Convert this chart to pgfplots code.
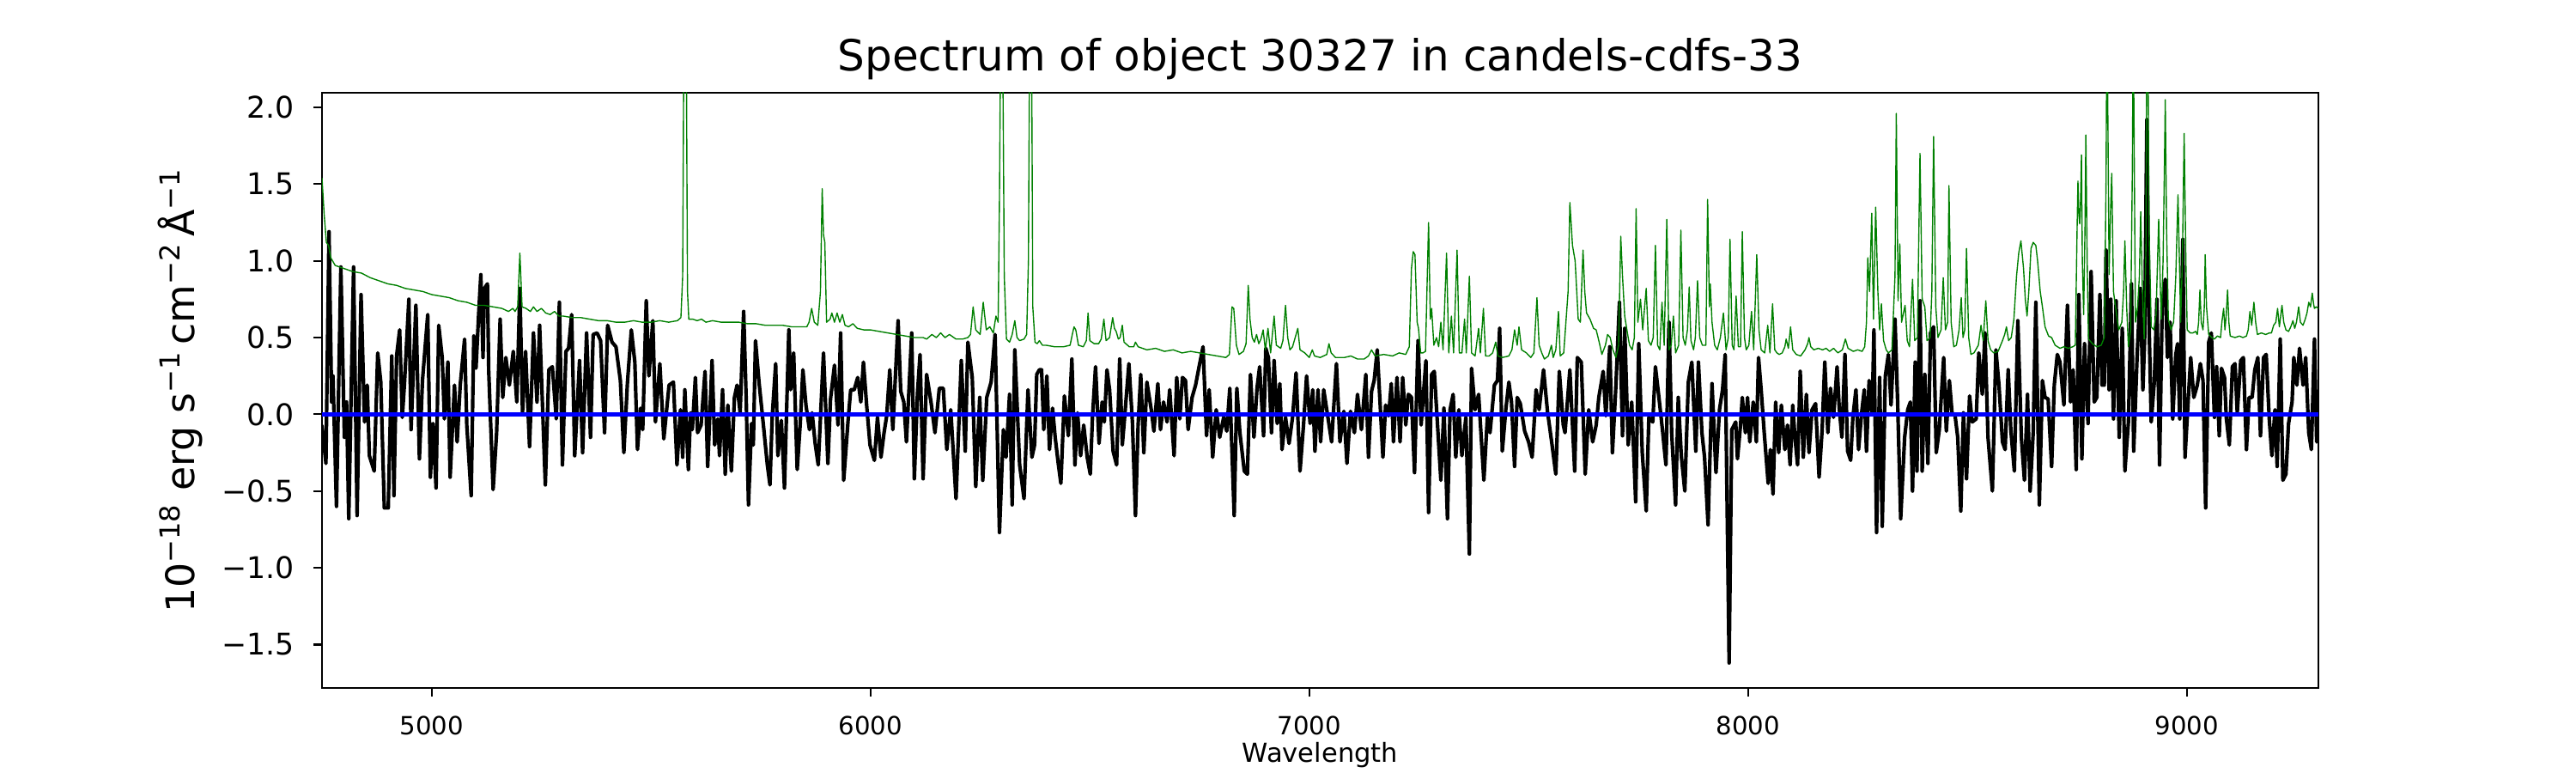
\documentclass[border=0pt]{standalone}
\usepackage{fontspec}
\setmainfont{DejaVu Sans}
\usepackage{pgfplots}
\pgfplotsset{compat=1.18}
\definecolor{mplgreen}{rgb}{0,0.5,0}
\begin{document}
\begin{tikzpicture}
\path[use as bounding box] (-135pt,-35.64pt) rectangle (945pt,288.36pt);
\begin{axis}[
  at={(0,0)}, anchor=south west,
  scale only axis, width=837pt, height=249.48pt,
  xmin=4750, xmax=9300, ymin=-1.783, ymax=2.095,
  axis line style={line width=0.8pt},
  every tick/.style={line width=0.8pt, black},
  major tick length=3.5pt,
  tick align=outside,
  xtick pos=bottom, ytick pos=left,
  xtick={5000,6000,7000,8000,9000},
  xticklabels={5000,6000,7000,8000,9000},
  ytick={-1.5,-1,-0.5,0,0.5,1,1.5,2},
  yticklabels={−1.5,−1.0,−0.5,0.0,0.5,1.0,1.5,2.0},
  yticklabel style={font=\fontsize{12.5}{15}\selectfont, anchor=east, inner sep=0pt, xshift=-7.8pt},
  xticklabel style={font=\fontsize{10.5}{12.6}\selectfont, anchor=north, inner sep=0pt, yshift=-8pt},
  title={Spectrum of object 30327 in candels-cdfs-33},
  title style={font=\fontsize{18}{21}\selectfont, at={(axis description cs:0.5,1)}, anchor=base, yshift=3pt, inner sep=0pt},
  xlabel={Wavelength},
  xlabel style={font=\fontsize{11}{13}\selectfont, at={(axis description cs:0.5,0)}, anchor=base, yshift=-31.3pt, inner sep=0pt},
  ylabel={10\textsuperscript{−18} erg s\textsuperscript{−1}\,cm\textsuperscript{−2}\,Å\textsuperscript{−1}},
  ylabel style={font=\fontsize{16.5}{19}\selectfont, at={(axis description cs:-0.06368,0.5)}, anchor=base, inner sep=0pt},
]
% black flux
\addplot[black, line width=1.5pt, line join=round] table[row sep=\\] {
x y\\
4750 -0.07\\ 4759 -0.32\\ 4766 1.19\\ 4772 0.08\\ 4775 0.25\\ 4783 -0.60\\ 4793 0.96\\ 4801 -0.15\\ 4806 0.08\\ 4811 -0.68\\
4822 0.96\\ 4830 -0.66\\ 4839 0.78\\ 4847 -0.05\\ 4853 0.19\\ 4858 -0.27\\ 4869 -0.37\\ 4877 0.40\\ 4884 0.21\\ 4892 -0.61\\
4901 -0.61\\ 4909 0.38\\ 4914 -0.53\\ 4920 0.38\\ 4927 0.55\\ 4933 -0.02\\ 4938 0.20\\ 4948 0.75\\ 4953 -0.10\\ 4964 0.71\\
4972 -0.29\\ 4979 0.22\\ 4991 0.65\\ 4997 -0.41\\ 5003 -0.06\\ 5010 -0.48\\ 5016 0.58\\ 5024 0.37\\ 5029 -0.03\\ 5037 0.34\\
5042 -0.41\\ 5052 0.19\\ 5058 -0.18\\ 5065 0.19\\ 5075 0.49\\ 5080 -0.07\\ 5090 -0.53\\ 5096 0.51\\ 5101 0.30\\ 5107 0.65\\
5112 0.91\\ 5117 0.37\\ 5120 0.82\\ 5127 0.85\\ 5130 0.28\\ 5140 -0.49\\ 5148 -0.12\\ 5156 0.62\\ 5162 0.11\\ 5169 0.37\\
5177 0.19\\ 5186 0.41\\ 5194 0.08\\ 5201 0.82\\ 5207 0.01\\ 5214 0.41\\ 5223 -0.21\\ 5232 0.53\\ 5240 0.08\\ 5246 0.58\\
5259 -0.46\\ 5267 0.29\\ 5275 0.31\\ 5284 -0.03\\ 5291 0.73\\ 5298 -0.33\\ 5306 0.41\\ 5312 0.43\\ 5319 0.65\\ 5326 -0.27\\
5337 0.35\\ 5344 -0.25\\ 5353 0.53\\ 5362 -0.15\\ 5368 0.52\\ 5377 0.53\\ 5385 0.48\\ 5394 -0.12\\ 5401 0.58\\ 5411 0.47\\
5420 0.44\\ 5430 0.22\\ 5438 -0.25\\ 5446 0.20\\ 5455 0.55\\ 5463 0.34\\ 5469 -0.23\\ 5476 0.04\\ 5481 -0.10\\ 5489 0.74\\
5495 0.25\\ 5504 0.61\\ 5510 -0.05\\ 5520 0.33\\ 5529 -0.16\\ 5541 0.19\\ 5551 0.21\\ 5559 -0.33\\
5567 0.03\\ 5572 -0.28\\ 5577 0.16\\ 5585 -0.36\\ 5590 0.01\\ 5594 -0.10\\ 5601 0.24\\ 5606 -0.12\\ 5614 -0.07\\ 5623 0.28\\
5629 -0.34\\ 5639 0.35\\ 5645 -0.20\\ 5652 -0.03\\ 5656 -0.27\\ 5663 0.16\\ 5669 -0.39\\ 5675 0.06\\ 5683 -0.37\\ 5690 0.11\\
5696 0.19\\ 5703 0.01\\ 5711 0.67\\ 5717 0.08\\ 5722 -0.59\\ 5729 -0.06\\ 5733 -0.20\\ 5738 0.48\\ 5746 0.21\\ 5756 -0.07\\
5765 -0.33\\ 5771 -0.46\\ 5776 -0.02\\ 5784 0.33\\ 5789 -0.27\\ 5797 -0.04\\ 5804 -0.48\\ 5814 0.55\\ 5818 0.16\\ 5825 0.40\\
5833 -0.36\\ 5840 -0.06\\ 5846 0.29\\ 5853 0.06\\ 5861 -0.10\\ 5867 0.01\\ 5874 -0.19\\ 5881 -0.33\\ 5893 0.40\\ 5903 -0.32\\
5909 0.10\\ 5918 0.32\\ 5926 -0.07\\ 5932 0.53\\ 5939 -0.43\\ 5949 -0.04\\ 5955 0.16\\ 5963 0.16\\ 5971 0.24\\ 5978 0.08\\
5984 0.34\\ 5991 0.07\\ 5999 -0.20\\ 6009 -0.30\\ 6016 -0.02\\ 6024 -0.28\\ 6031 -0.12\\ 6037 -0.01\\ 6044 0.29\\ 6051 -0.10\\
6063 0.61\\ 6069 0.15\\ 6076 0.08\\ 6082 -0.18\\ 6094 0.53\\ 6100 -0.42\\ 6107 0.13\\ 6113 0.39\\ 6120 -0.42\\ 6128 0.26\\
6138 0.08\\ 6147 -0.12\\ 6157 0.17\\ 6166 0.17\\ 6174 -0.23\\ 6183 0.03\\ 6195 -0.55\\ 6207 0.35\\ 6216 -0.24\\ 6222 0.47\\
6232 0.24\\ 6240 -0.47\\ 6249 0.11\\ 6256 -0.43\\ 6265 0.11\\ 6275 0.21\\ 6284 0.52\\ 6294 -0.77\\ 6303 -0.10\\ 6309 -0.28\\
6317 0.13\\ 6323 -0.59\\ 6329 0.42\\ 6340 -0.33\\ 6350 -0.55\\ 6359 0.16\\
6368 -0.28\\ 6374 -0.20\\ 6379 0.26\\ 6385 0.29\\ 6390 0.29\\ 6395 -0.10\\ 6402 0.25\\ 6408 -0.23\\ 6415 0.04\\ 6421 -0.15\\
6428 -0.32\\ 6434 -0.45\\ 6442 0.12\\ 6451 -0.14\\ 6459 0.36\\ 6466 -0.33\\ 6472 0.01\\ 6479 -0.27\\ 6486 -0.07\\ 6494 -0.28\\
6501 -0.39\\ 6506 -0.02\\ 6513 0.31\\ 6521 -0.19\\ 6528 0.08\\ 6533 -0.05\\ 6539 0.29\\ 6545 0.16\\ 6553 -0.24\\ 6561 -0.33\\
6568 0.36\\ 6574 -0.20\\ 6581 0.04\\ 6589 0.33\\ 6597 -0.05\\ 6604 -0.66\\ 6610 -0.07\\ 6616 0.26\\ 6623 -0.25\\ 6630 0.21\\
6640 0.03\\ 6646 -0.11\\ 6655 0.20\\ 6661 -0.10\\ 6668 0.08\\ 6676 -0.05\\ 6682 0.16\\ 6692 -0.27\\ 6698 0.24\\ 6705 -0.03\\
6711 0.24\\ 6718 0.22\\ 6724 -0.10\\ 6733 0.11\\ 6741 0.19\\ 6749 0.31\\ 6758 0.44\\ 6766 -0.14\\ 6772 0.16\\ 6780 -0.28\\
6788 0.03\\ 6796 -0.15\\ 6805 -0.02\\ 6812 -0.11\\ 6819 0.17\\ 6829 -0.66\\ 6835 0.17\\ 6842 -0.12\\ 6852 -0.37\\ 6859 -0.39\\
6866 0.26\\ 6874 -0.15\\ 6881 0.17\\ 6887 0.31\\ 6896 -0.14\\ 6901 0.43\\ 6907 0.37\\ 6914 -0.12\\ 6920 0.35\\ 6927 -0.06\\
6933 0.20\\ 6938 -0.23\\ 6946 -0.02\\ 6954 -0.19\\ 6962 -0.02\\ 6970 0.27\\ 6979 -0.37\\ 6987 -0.07\\ 6994 0.25\\ 7002 -0.06\\
7008 0.16\\ 7013 -0.24\\ 7020 0.16\\ 7026 -0.18\\ 7033 0.16\\ 7041 0.01\\ 7051 -0.18\\ 7062 0.33\\ 7070 -0.18\\ 7079 0.02\\
7086 -0.32\\ 7094 0.02\\ 7103 -0.12\\ 7110 0.13\\ 7119 -0.10\\ 7129 0.26\\ 7135 -0.28\\ 7142 0.15\\ 7148 0.22\\ 7155 0.42\\
7168 -0.28\\ 7174 0.06\\ 7181 -0.01\\ 7187 0.20\\ 7192 -0.18\\ 7200 0.24\\ 7207 -0.18\\ 7213 0.24\\ 7220 -0.07\\ 7226 0.13\\
7233 0.11\\ 7240 -0.38\\ 7248 0.48\\ 7255 -0.07\\ 7266 0.35\\ 7272 -0.64\\ 7279 0.26\\ 7285 0.28\\ 7292 -0.05\\ 7300 -0.43\\
7307 0.04\\ 7315 -0.68\\ 7321 0.03\\ 7328 0.13\\ 7334 -0.28\\ 7341 0.03\\ 7348 -0.27\\ 7357 -0.02\\ 7365 -0.91\\ 7370 0.30\\
7378 0.03\\ 7386 0.13\\ 7398 -0.43\\ 7406 -0.02\\ 7412 -0.12\\ 7422 0.19\\ 7429 0.22\\ 7434 0.56\\ 7440 -0.24\\ 7448 0.03\\
7455 0.21\\ 7461 0.08\\ 7468 -0.34\\ 7474 0.11\\ 7481 0.07\\ 7491 -0.11\\ 7500 -0.18\\ 7508 -0.28\\ 7517 0.16\\ 7524 0.03\\
7534 0.29\\ 7543 0.02\\ 7553 -0.19\\ 7562 -0.39\\ 7570 0.28\\ 7579 -0.07\\ 7583 -0.12\\ 7594 0.29\\ 7605 -0.37\\ 7611 0.37\\
7620 0.34\\ 7629 -0.39\\ 7637 0.03\\ 7646 -0.18\\ 7654 -0.07\\ 7660 0.11\\ 7670 0.28\\ 7676 -0.01\\ 7685 0.44\\ 7691 -0.25\\
7699 0.19\\ 7707 0.73\\ 7714 -0.14\\ 7719 0.56\\ 7727 -0.20\\ 7735 0.08\\ 7744 -0.57\\ 7751 0.46\\ 7759 -0.25\\ 7768 -0.63\\
7774 -0.02\\ 7783 -0.05\\ 7789 0.31\\ 7797 0.11\\ 7805 -0.10\\ 7813 -0.33\\ 7820 0.60\\ 7826 -0.12\\ 7835 -0.59\\ 7841 0.11\\
7848 -0.27\\ 7856 -0.50\\ 7864 0.21\\ 7872 0.34\\ 7881 -0.24\\ 7887 0.34\\ 7895 -0.12\\ 7901 -0.28\\ 7909 -0.72\\ 7918 0.20\\
7927 -0.38\\ 7935 0.03\\ 7942 0.16\\ 7948 0.39\\ 7957 -1.62\\ 7963 -0.10\\
7972 -0.05\\ 7976 -0.29\\ 7983 -0.07\\ 7987 0.11\\ 7994 -0.12\\ 7999 0.11\\ 8004 -0.18\\ 8012 0.08\\ 8019 -0.18\\ 8024 0.37\\
8030 0.16\\ 8037 -0.12\\ 8046 -0.45\\ 8051 -0.23\\ 8057 -0.52\\ 8063 0.08\\ 8070 -0.25\\ 8076 0.06\\ 8084 -0.23\\ 8090 -0.07\\
8096 -0.33\\ 8102 0.06\\ 8107 -0.15\\ 8113 -0.33\\ 8119 0.28\\ 8126 -0.28\\ 8133 0.13\\ 8139 -0.25\\ 8146 0.03\\ 8154 0.07\\
8162 -0.41\\ 8169 -0.10\\ 8175 0.34\\ 8182 -0.12\\ 8188 0.17\\ 8195 -0.02\\ 8203 0.31\\ 8208 0.04\\ 8214 -0.15\\ 8221 0.39\\
8227 -0.24\\ 8234 -0.30\\ 8239 -0.02\\ 8246 0.16\\ 8252 -0.23\\ 8259 0.01\\ 8265 0.16\\ 8270 -0.24\\ 8276 0.22\\ 8283 0.01\\
8287 0.55\\ 8293 -0.77\\ 8300 0.24\\ 8306 -0.73\\ 8313 0.25\\ 8320 0.39\\ 8326 0.06\\ 8335 0.62\\ 8341 0.08\\ 8348 -0.68\\
8357 -0.15\\ 8364 0.03\\ 8370 0.08\\ 8375 -0.50\\ 8381 0.34\\ 8385 -0.37\\ 8392 0.74\\ 8397 -0.37\\ 8403 0.26\\ 8410 -0.32\\
8416 0.53\\ 8423 0.57\\ 8429 -0.25\\ 8436 -0.10\\ 8446 0.37\\ 8452 -0.11\\ 8459 0.22\\ 8465 0.01\\ 8472 -0.01\\ 8478 -0.15\\
8485 -0.63\\ 8491 0.01\\ 8498 -0.42\\ 8505 0.12\\ 8511 -0.05\\ 8520 -0.03\\ 8526 0.40\\ 8534 0.13\\ 8540 0.53\\ 8547 -0.15\\
8557 -0.50\\ 8565 0.42\\ 8572 0.19\\ 8580 -0.18\\ 8586 -0.23\\ 8593 0.29\\ 8599 -0.10\\ 8607 -0.37\\ 8615 0.61\\ 8623 -0.15\\
8630 -0.43\\ 8637 0.13\\ 8643 -0.50\\ 8650 -0.12\\ 8656 0.73\\ 8664 -0.59\\ 8671 0.22\\ 8677 0.11\\ 8684 0.10\\ 8692 -0.34\\
8698 0.19\\ 8705 0.39\\ 8711 0.34\\ 8720 0.06\\ 8728 0.71\\ 8735 0.08\\ 8741 0.29\\ 8748 -0.36\\ 8754 0.78\\ 8761 -0.29\\
8767 0.46\\ 8775 -0.06\\ 8782 0.93\\ 8789 0.08\\ 8795 0.11\\ 8802 0.78\\ 8807 0.19\\ 8812 0.19\\ 8816 1.07\\ 8823 0.16\\
8827 0.75\\ 8833 -0.03\\ 8839 0.74\\ 8846 -0.15\\ 8853 0.56\\ 8859 -0.37\\ 8867 -0.05\\ 8874 0.85\\ 8879 -0.24\\ 8887 0.39\\
8894 0.82\\ 8900 0.16\\ 8904 0.49\\ 8909 1.92\\ 8914 0.60\\ 8919 -0.05\\ 8926 0.21\\ 8932 0.75\\ 8938 -0.33\\ 8944 0.70\\
8951 0.88\\ 8956 0.37\\ 8962 0.60\\ 8968 -0.03\\ 8975 0.39\\ 8979 0.46\\ 8984 -0.03\\ 8991 1.14\\ 8996 -0.28\\ 9003 0.08\\
9009 0.37\\ 9016 0.11\\ 9024 0.19\\ 9031 0.33\\ 9037 0.22\\ 9043 -0.61\\ 9050 0.47\\ 9056 0.53\\ 9063 -0.02\\ 9068 0.31\\
9074 -0.14\\ 9079 0.30\\ 9086 0.24\\ 9090 -0.02\\ 9097 -0.20\\ 9104 0.31\\ 9110 0.33\\ 9115 0.01\\ 9123 0.35\\ 9129 0.37\\
9136 -0.23\\ 9142 0.11\\ 9149 0.11\\ 9155 0.29\\ 9162 0.37\\ 9168 -0.14\\ 9175 0.37\\ 9181 0.39\\ 9188 -0.03\\ 9194 -0.27\\
9201 0.03\\ 9206 -0.34\\ 9213 0.49\\ 9219 -0.43\\ 9226 -0.39\\ 9232 -0.06\\ 9240 0.08\\ 9244 0.37\\ 9251 0.19\\ 9257 0.43\\
9265 0.19\\ 9271 0.37\\ 9278 -0.12\\ 9284 -0.23\\ 9291 0.49\\ 9296 -0.18\\ 9300 -0.10\\
};
% green error spectrum
\addplot[mplgreen, line width=0.5pt, line join=round] table[row sep=\\] {
x y\\
4750 1.54\\ 4755 1.30\\ 4760 1.12\\ 4765 1.10\\ 4770 1.02\\ 4780 0.97\\ 4800 0.95\\ 4820 0.93\\ 4840 0.92\\ 4860 0.89\\
4880 0.87\\ 4900 0.85\\ 4920 0.84\\ 4940 0.82\\ 4960 0.81\\ 4980 0.80\\ 5000 0.78\\ 5020 0.77\\ 5040 0.76\\ 5060 0.74\\
5080 0.73\\ 5100 0.71\\ 5120 0.71\\ 5140 0.70\\ 5160 0.69\\ 5175 0.67\\ 5185 0.69\\ 5190 0.67\\ 5196 0.70\\ 5201 1.05\\
5206 0.70\\ 5215 0.69\\ 5225 0.67\\ 5232 0.70\\ 5240 0.67\\ 5250 0.69\\ 5260 0.66\\ 5270 0.65\\ 5280 0.67\\ 5290 0.64\\
5300 0.64\\ 5320 0.63\\ 5340 0.63\\ 5360 0.62\\ 5380 0.61\\ 5400 0.61\\ 5420 0.60\\ 5440 0.60\\ 5460 0.61\\ 5480 0.60\\
5500 0.60\\ 5520 0.61\\ 5540 0.60\\ 5560 0.61\\ 5568 0.63\\ 5572 0.90\\ 5575 2.6\\ 5580 2.6\\ 5583 0.80\\ 5586 0.62\\
5595 0.62\\ 5605 0.61\\ 5615 0.62\\ 5625 0.60\\ 5640 0.61\\ 5660 0.60\\ 5680 0.60\\ 5700 0.60\\ 5720 0.59\\ 5740 0.59\\
5760 0.58\\ 5780 0.58\\ 5800 0.58\\ 5820 0.57\\ 5840 0.57\\ 5855 0.57\\ 5860 0.60\\ 5866 0.69\\ 5872 0.60\\ 5880 0.58\\
5886 0.80\\ 5890 1.47\\ 5893 1.17\\ 5896 1.12\\ 5900 0.60\\ 5908 0.62\\ 5912 0.66\\ 5918 0.60\\ 5924 0.66\\ 5930 0.60\\
5936 0.65\\ 5942 0.58\\ 5950 0.57\\ 5960 0.59\\ 5970 0.56\\ 5985 0.55\\ 6000 0.55\\ 6020 0.54\\ 6040 0.53\\ 6060 0.52\\
6080 0.51\\ 6100 0.50\\ 6120 0.50\\ 6128 0.49\\ 6140 0.52\\ 6150 0.50\\ 6160 0.53\\ 6170 0.50\\ 6180 0.52\\ 6195 0.49\\
6210 0.49\\ 6222 0.50\\ 6228 0.52\\ 6234 0.70\\ 6240 0.55\\ 6250 0.52\\ 6257 0.73\\ 6264 0.55\\ 6272 0.57\\ 6280 0.53\\
6286 0.64\\ 6291 0.60\\ 6294 1.4\\ 6297 2.6\\ 6301 2.6\\ 6305 0.9\\ 6310 0.49\\ 6317 0.47\\ 6323 0.52\\ 6329 0.61\\
6334 0.50\\ 6340 0.48\\ 6350 0.49\\ 6356 0.52\\ 6360 1.0\\ 6363 2.6\\ 6367 2.6\\ 6370 0.7\\ 6375 0.47\\ 6380 0.46\\
6385 0.48\\ 6392 0.45\\ 6400 0.45\\ 6420 0.44\\ 6440 0.44\\ 6455 0.45\\ 6460 0.52\\ 6464 0.57\\ 6468 0.55\\ 6474 0.45\\
6485 0.44\\ 6492 0.48\\ 6496 0.66\\ 6500 0.48\\ 6510 0.46\\ 6520 0.46\\ 6526 0.49\\ 6532 0.62\\ 6537 0.48\\ 6545 0.50\\
6552 0.63\\ 6556 0.56\\ 6560 0.54\\ 6565 0.49\\ 6569 0.50\\ 6574 0.58\\ 6578 0.47\\ 6590 0.44\\ 6600 0.44\\ 6604 0.47\\
6610 0.44\\ 6630 0.42\\ 6650 0.43\\ 6670 0.41\\ 6690 0.42\\ 6710 0.40\\ 6730 0.41\\ 6750 0.40\\ 6770 0.39\\ 6790 0.38\\
6810 0.37\\ 6818 0.39\\ 6824 0.70\\ 6828 0.69\\ 6834 0.45\\ 6840 0.39\\ 6850 0.41\\ 6856 0.46\\ 6861 0.84\\ 6865 0.62\\
6870 0.50\\ 6875 0.47\\ 6880 0.52\\ 6885 0.46\\ 6890 0.49\\ 6895 0.55\\ 6900 0.42\\ 6906 0.56\\ 6912 0.40\\ 6920 0.64\\
6925 0.45\\ 6935 0.43\\ 6940 0.48\\ 6946 0.71\\ 6951 0.50\\ 6956 0.42\\ 6962 0.44\\ 6968 0.50\\ 6974 0.56\\ 6979 0.42\\
6990 0.40\\ 7000 0.37\\ 7007 0.42\\ 7012 0.38\\ 7025 0.37\\ 7040 0.39\\ 7045 0.46\\ 7050 0.40\\ 7060 0.37\\ 7080 0.37\\
7095 0.38\\ 7110 0.36\\ 7125 0.36\\ 7135 0.38\\ 7142 0.42\\ 7150 0.38\\ 7170 0.39\\ 7190 0.38\\ 7205 0.40\\ 7220 0.39\\
7228 0.44\\ 7233 0.95\\ 7237 1.06\\ 7241 1.04\\ 7246 0.60\\ 7249 0.56\\ 7254 0.40\\ 7259 0.40\\ 7265 0.41\\ 7272 1.25\\
7276 0.62\\ 7279 0.69\\ 7284 0.45\\ 7290 0.50\\ 7295 0.44\\ 7300 0.60\\ 7305 0.42\\ 7313 1.05\\ 7318 0.40\\ 7324 0.64\\
7329 0.40\\ 7337 1.07\\ 7342 0.40\\ 7348 0.40\\ 7354 0.62\\ 7358 0.40\\ 7365 0.90\\ 7370 0.40\\ 7378 0.38\\ 7386 0.56\\
7390 0.40\\ 7397 0.69\\ 7402 0.38\\ 7410 0.38\\ 7418 0.40\\ 7425 0.47\\ 7430 0.38\\ 7440 0.37\\ 7455 0.38\\ 7462 0.42\\
7468 0.55\\ 7474 0.45\\ 7478 0.57\\ 7484 0.42\\ 7495 0.40\\ 7505 0.37\\ 7512 0.40\\ 7519 0.76\\ 7524 0.45\\ 7530 0.40\\
7536 0.36\\ 7545 0.38\\ 7552 0.45\\ 7556 0.37\\ 7562 0.42\\ 7568 0.67\\ 7572 0.38\\ 7580 0.40\\ 7590 0.80\\ 7594 1.38\\
7600 1.10\\ 7606 1.00\\ 7613 0.62\\ 7618 0.60\\ 7624 1.07\\ 7628 0.80\\ 7632 0.66\\ 7640 0.62\\ 7648 0.56\\ 7654 0.55\\
7660 0.48\\ 7667 0.39\\ 7675 0.45\\ 7680 0.52\\ 7686 0.50\\ 7692 0.42\\ 7699 0.37\\ 7705 0.45\\ 7710 1.16\\ 7714 0.90\\
7719 0.64\\ 7724 0.55\\ 7730 0.45\\ 7736 0.42\\ 7741 0.50\\ 7745 1.34\\ 7749 0.60\\ 7755 0.75\\ 7760 0.55\\ 7768 0.82\\
7773 0.48\\ 7779 0.45\\ 7784 0.50\\ 7789 1.10\\ 7794 0.45\\ 7799 0.42\\ 7804 0.73\\ 7809 0.45\\ 7815 1.27\\ 7820 0.42\\
7825 0.45\\ 7830 0.64\\ 7835 0.40\\ 7842 0.45\\ 7847 1.20\\ 7852 0.50\\ 7857 0.45\\ 7862 0.55\\ 7866 0.83\\ 7870 0.48\\
7876 0.42\\ 7880 0.50\\ 7885 0.87\\ 7890 0.50\\ 7896 0.45\\ 7904 0.45\\ 7908 1.40\\ 7912 0.70\\ 7914 0.85\\ 7918 0.60\\
7924 0.45\\ 7930 0.42\\ 7937 0.50\\ 7944 0.66\\ 7950 0.42\\ 7955 0.50\\ 7959 1.14\\ 7964 0.45\\ 7968 0.42\\ 7973 0.77\\
7978 0.44\\ 7983 0.44\\ 7987 1.19\\ 7992 0.50\\ 7996 0.42\\ 8002 0.45\\ 8008 0.67\\ 8013 0.42\\ 8020 1.04\\ 8025 0.55\\
8030 0.42\\ 8038 0.40\\ 8045 0.58\\ 8050 0.40\\ 8056 0.72\\ 8061 0.42\\ 8066 0.40\\ 8071 0.39\\ 8078 0.40\\ 8084 0.44\\
8087 0.49\\ 8092 0.43\\ 8097 0.57\\ 8102 0.42\\ 8110 0.39\\ 8120 0.38\\ 8130 0.42\\ 8136 0.46\\ 8139 0.50\\ 8143 0.44\\
8150 0.42\\ 8160 0.43\\ 8170 0.42\\ 8178 0.43\\ 8186 0.41\\ 8195 0.43\\ 8205 0.40\\ 8215 0.42\\ 8222 0.49\\ 8228 0.43\\
8240 0.41\\ 8250 0.42\\ 8260 0.41\\ 8266 0.44\\ 8270 0.60\\ 8273 1.02\\ 8277 0.80\\ 8282 1.31\\ 8286 0.62\\ 8291 1.35\\
8296 0.80\\ 8300 0.55\\ 8304 0.72\\ 8309 0.48\\ 8315 0.42\\ 8320 0.40\\ 8328 0.42\\ 8335 0.90\\ 8338 1.96\\ 8342 0.74\\
8346 1.11\\ 8350 0.60\\ 8358 0.71\\ 8363 0.48\\ 8368 0.44\\ 8375 0.88\\ 8380 0.48\\ 8386 0.50\\ 8392 1.70\\ 8397 0.75\\
8403 0.70\\ 8408 0.48\\ 8415 0.50\\ 8419 0.80\\ 8423 1.81\\ 8428 0.70\\ 8433 0.50\\ 8440 0.55\\ 8445 0.89\\ 8450 0.55\\
8455 0.60\\ 8458 1.49\\ 8463 0.60\\ 8469 0.44\\ 8475 0.45\\ 8481 0.55\\ 8486 0.76\\ 8490 0.50\\ 8494 0.55\\ 8498 1.08\\
8503 0.50\\ 8508 0.39\\ 8515 0.40\\ 8525 0.45\\ 8531 0.58\\ 8536 0.48\\ 8542 0.74\\ 8547 0.48\\ 8553 0.42\\ 8560 0.40\\
8570 0.41\\ 8580 0.48\\ 8585 0.52\\ 8589 0.57\\ 8594 0.48\\ 8600 0.50\\ 8606 0.62\\ 8612 0.90\\ 8617 1.05\\ 8622 1.13\\
8628 0.95\\ 8632 0.75\\ 8636 0.64\\ 8640 0.80\\ 8645 1.08\\ 8650 1.12\\ 8656 1.10\\ 8660 1.00\\ 8666 0.80\\ 8671 0.70\\
8677 0.57\\ 8685 0.51\\ 8692 0.50\\ 8700 0.45\\ 8711 0.43\\ 8720 0.44\\ 8730 0.43\\ 8740 0.44\\ 8746 0.45\\ 8750 1.20\\
8752 1.52\\ 8754 1.30\\ 8756 1.24\\ 8758 1.40\\ 8760 1.69\\ 8762 1.00\\ 8765 0.65\\ 8768 1.20\\ 8770 1.82\\ 8773 1.00\\
8776 0.49\\ 8785 0.46\\ 8795 0.44\\ 8805 0.45\\ 8812 0.50\\ 8816 1.50\\ 8818 2.6\\ 8820 2.0\\ 8823 0.91\\ 8826 1.30\\
8829 1.57\\ 8833 0.80\\ 8839 0.67\\ 8845 0.55\\ 8852 0.60\\ 8856 0.80\\ 8859 1.13\\ 8863 0.70\\ 8867 0.44\\ 8872 0.55\\
8876 1.60\\ 8878 2.6\\ 8880 1.80\\ 8883 0.60\\ 8888 0.70\\ 8892 0.90\\ 8895 1.32\\ 8899 0.80\\ 8903 0.49\\ 8907 1.10\\
8909 2.6\\ 8911 2.6\\ 8914 1.20\\ 8919 0.57\\ 8925 0.55\\ 8930 0.65\\ 8936 1.27\\ 8940 0.80\\ 8942 0.62\\ 8946 1.00\\
8949 1.60\\ 8951 2.05\\ 8954 1.20\\ 8958 0.62\\ 8964 0.55\\ 8970 0.60\\ 8975 0.90\\ 8980 1.43\\ 8984 0.90\\ 8986 0.60\\
8990 1.00\\ 8994 1.83\\ 8998 1.00\\ 9001 0.55\\ 9008 0.53\\ 9014 0.53\\ 9020 0.54\\ 9024 0.52\\ 9027 0.60\\ 9030 0.81\\
9033 0.60\\ 9037 0.55\\ 9040 0.70\\ 9042 1.04\\ 9045 0.70\\ 9050 0.52\\ 9057 0.50\\ 9063 0.49\\ 9070 0.51\\ 9077 0.50\\
9080 0.60\\ 9084 0.69\\ 9087 0.55\\ 9090 0.65\\ 9093 0.81\\ 9096 0.60\\ 9099 0.51\\ 9110 0.50\\ 9120 0.51\\ 9128 0.50\\
9136 0.51\\ 9140 0.55\\ 9144 0.67\\ 9148 0.58\\ 9153 0.73\\ 9157 0.60\\ 9161 0.52\\ 9170 0.53\\ 9180 0.52\\ 9188 0.53\\
9193 0.53\\ 9198 0.58\\ 9203 0.60\\ 9207 0.69\\ 9211 0.57\\ 9217 0.71\\ 9221 0.60\\ 9226 0.55\\ 9232 0.54\\ 9237 0.57\\
9242 0.61\\ 9246 0.56\\ 9250 0.60\\ 9255 0.70\\ 9259 0.60\\ 9265 0.58\\ 9270 0.62\\ 9274 0.66\\ 9278 0.73\\ 9282 0.70\\
9286 0.79\\ 9289 0.72\\ 9291 0.69\\ 9295 0.70\\ 9300 0.69\\
};
% zero line
\addplot[blue, line width=2pt] coordinates {(4750,0) (9300,0)};
\end{axis}
\end{tikzpicture}
\end{document}
